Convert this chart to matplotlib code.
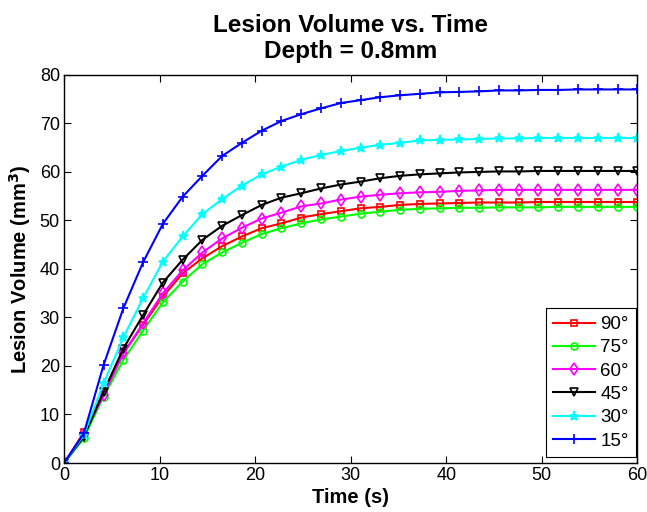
import numpy as np
import matplotlib
matplotlib.use("Agg")
import matplotlib.pyplot as plt

plt.rcParams['font.family'] = ['Liberation Sans', 'DejaVu Sans']

time = np.linspace(0, 60, 30)

v90 = [0, 6.3, 14.7, 22.6, 28.5, 34.3, 39.1, 42.2, 44.7, 46.7, 48.4, 49.4, 50.6, 51.3, 51.9,
       52.5, 52.8, 53.2, 53.4, 53.5, 53.6, 53.7, 53.7, 53.7, 53.8, 53.8, 53.8, 53.8, 53.8, 53.8]
v75 = [0, 5.1, 13.7, 21.2, 27.3, 33.1, 37.4, 41.0, 43.4, 45.4, 47.2, 48.4, 49.4, 50.2, 50.8,
       51.4, 51.8, 52.2, 52.4, 52.5, 52.6, 52.6, 52.7, 52.7, 52.7, 52.8, 52.8, 52.8, 52.8, 52.8]
v60 = [0, 5.8, 14.0, 22.6, 28.8, 35.0, 39.7, 43.4, 46.3, 48.5, 50.4, 51.6, 52.9, 53.5, 54.3,
       54.9, 55.3, 55.6, 55.8, 55.9, 56.1, 56.2, 56.3, 56.3, 56.3, 56.3, 56.3, 56.3, 56.3, 56.3]
v45 = [0, 5.4, 14.7, 23.6, 30.5, 37.2, 41.9, 46.0, 48.9, 51.1, 53.2, 54.7, 55.6, 56.6, 57.4,
       58.0, 58.7, 59.2, 59.5, 59.7, 59.9, 60.0, 60.1, 60.1, 60.2, 60.2, 60.2, 60.2, 60.2, 60.2]
v30 = [0, 5.8, 16.4, 25.9, 34.0, 41.5, 46.7, 51.3, 54.4, 57.2, 59.5, 61.1, 62.5, 63.5, 64.3,
       65.0, 65.6, 66.0, 66.5, 66.6, 66.7, 66.8, 66.9, 66.9, 67.0, 67.0, 67.0, 67.0, 67.0, 67.0]
v15 = [0, 6.1, 20.2, 31.9, 41.4, 49.3, 54.9, 59.2, 63.3, 66.0, 68.5, 70.5, 71.9, 73.1, 74.2,
       74.8, 75.4, 75.8, 76.1, 76.4, 76.5, 76.6, 76.8, 76.8, 76.9, 76.9, 77.0, 77.0, 77.0, 77.0]

labels = ['90°', '75°', '60°', '45°', '30°', '15°']
series = [v90, v75, v60, v45, v30, v15]
colors = ['#ff0000', '#00ff00', '#ff00ff', '#000000', '#00ffff', '#0000ff']
markers = ['s', 'o', 'd', 'v', '*', '+']
msizes = [5, 5, 6, 5.5, 6.5, 7]

fig = plt.figure(figsize=(6.47, 5.12), dpi=100)
ax = fig.add_axes([0.099, 0.0957, 0.886, 0.758])

for y, lab, c, m, ms in zip(series, labels, colors, markers, msizes):
    filled = m in ('+', '*')
    ax.plot(time, y, color=c, marker=m, markerfacecolor=c if filled else 'none',
            markeredgecolor=c, markersize=ms, linewidth=1.5, markeredgewidth=1.2, label=lab)

ax.set_xlim(0, 60)
ax.set_ylim(0, 80)
ax.set_xticks(np.arange(0, 61, 10))
ax.set_yticks(np.arange(0, 81, 10))
ax.tick_params(direction='in', top=True, right=True, labelsize=13, length=5, pad=3)
for s in ax.spines.values():
    s.set_linewidth(1.0)

ax.set_xlabel('Time (s)', fontsize=14.5, fontweight='bold', labelpad=3)
ax.set_ylabel('Lesion Volume (mm$^\\mathbf{3}$)', fontsize=14.5, fontweight='bold', labelpad=5)
ax.set_title('Lesion Volume vs. Time\nDepth = 0.8mm', fontsize=17.5, fontweight='bold',
             pad=12, linespacing=1.2)

leg = ax.legend(loc='lower right', bbox_to_anchor=(0.998, 0.015), borderaxespad=0,
                fontsize=13.5, fancybox=False, edgecolor='black', framealpha=1,
                handlelength=2.2, labelspacing=0.33, handletextpad=0.3, borderpad=0.4)
leg.get_frame().set_linewidth(0.8)

fig.savefig('out.png', dpi=100)
